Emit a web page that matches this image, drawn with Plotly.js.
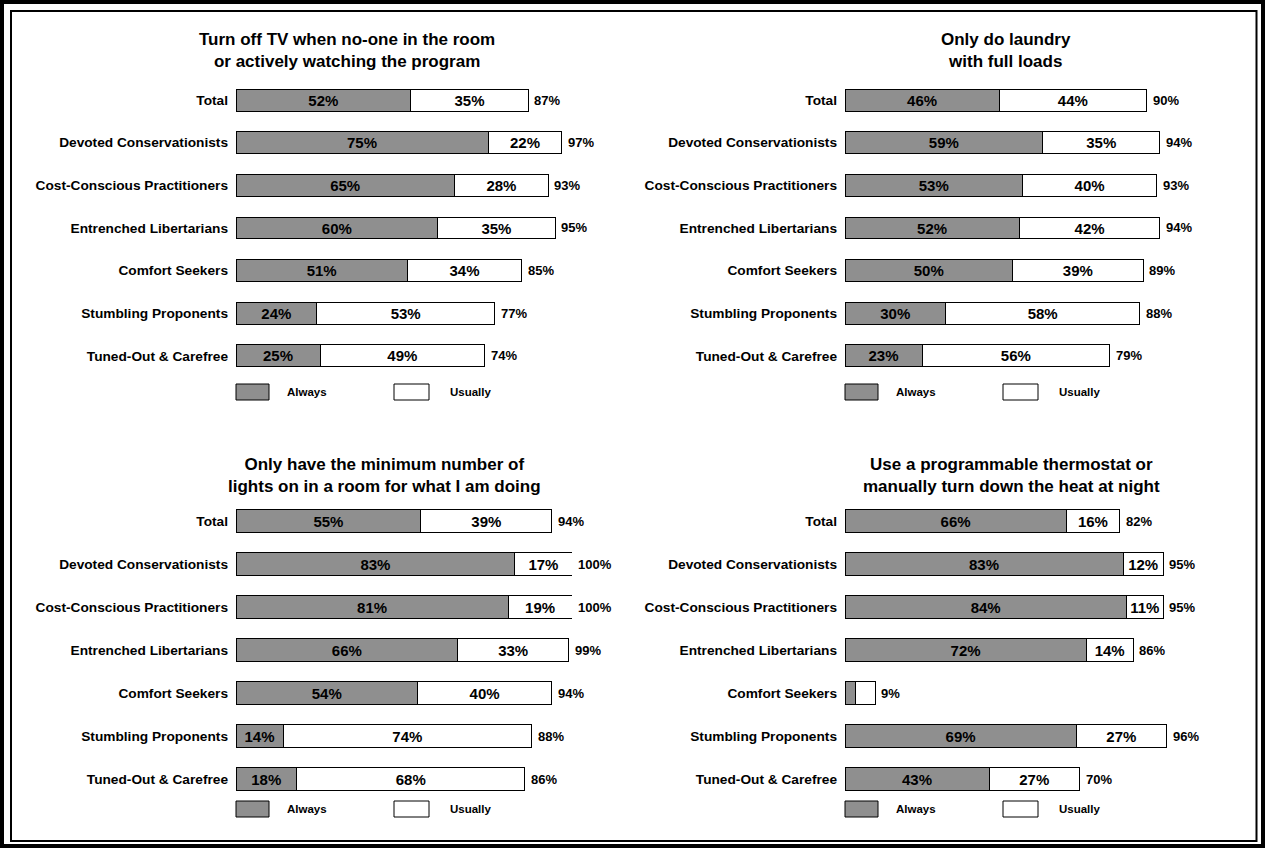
<!DOCTYPE html>
<html>
<head>
<meta charset="utf-8">
<script src="https://cdn.plot.ly/plotly-3.0.1.min.js"></script>
<style>
html,body{margin:0;padding:0;background:#fff;}
#chart{width:1265px;height:848px;}
</style>
</head>
<body>
<div id="chart"></div>
<script>
// ---- data ----
const categories = ["Total","Devoted Conservationists","Cost-Conscious Practitioners","Entrenched Libertarians","Comfort Seekers","Stumbling Proponents","Tuned-Out & Carefree"];

const panelTitles = [
  "Turn off TV when no-one in the room<br>or actively watching the program",
  "Only do laundry<br>with full loads",
  "Only have the minimum number of<br>lights on in a room for what I am doing",
  "Use a programmable thermostat or<br>manually turn down the heat at night"
];

const tvAlways   = [52,75,65,60,51,24,25];
const tvUsually  = [35,22,28,35,34,53,49];
const tvTotal    = [87,97,93,95,85,77,74];

const laundryAlways  = [46,59,53,52,50,30,23];
const laundryUsually = [44,35,40,42,39,58,56];
const laundryTotal   = [90,94,93,94,89,88,79];

const lightsAlways  = [55,83,81,66,54,14,18];
const lightsUsually = [39,17,19,33,40,74,68];
const lightsTotal   = [94,100,100,99,94,88,86];

const thermoAlways  = [66,83,84,72,3,69,43];
const thermoUsually = [16,12,11,14,6,27,27];
const thermoTotal   = [82,95,95,86,9,96,70];
const thermoShowInside = [true,true,true,true,false,true,true];

const legendLabels = ["Always","Usually"];

// ---- layout helpers ----
const W = 1265, H = 848;
const px = v => v / W;
const py = v => 1 - v / H;

const GRAY = "#8f8f8f";
const FONT = "Liberation Sans, Arial, Helvetica, sans-serif";

const panels = [
  {a: tvAlways, u: tvUsually, t: tvTotal, show: null, xa: "x", ya: "y"},
  {a: laundryAlways, u: laundryUsually, t: laundryTotal, show: null, xa: "x2", ya: "y2"},
  {a: lightsAlways, u: lightsUsually, t: lightsTotal, show: null, xa: "x3", ya: "y3"},
  {a: thermoAlways, u: thermoUsually, t: thermoTotal, show: thermoShowInside, xa: "x4", ya: "y4"}
];

const traces = [];
const annotations = [];
panels.forEach((p, i) => {
  const lab = (arr) => arr.map((v, k) => (p.show && !p.show[k]) ? "" : v + "%");
  const common = {
    type: "bar", orientation: "h", y: categories, xaxis: p.xa, yaxis: p.ya,
    textposition: "inside", insidetextanchor: "middle", textangle: 0,
    textfont: {family: FONT, size: 15, color: "#000", weight: "bold"},
    hoverinfo: "skip", showlegend: false, cliponaxis: false
  };
  traces.push(Object.assign({}, common, {
    x: p.a, text: lab(p.a), name: legendLabels[0],
    marker: {color: GRAY, line: {color: "#000", width: 1}}
  }));
  traces.push(Object.assign({}, common, {
    x: p.u, text: lab(p.u), name: legendLabels[1],
    marker: {color: "#fff", line: {color: "#000", width: 1}}
  }));
  // total labels to the right of each stacked bar
  p.t.forEach((v, k) => {
    annotations.push({
      xref: p.xa, yref: p.ya, x: p.a[k] + p.u[k], y: categories[k],
      xanchor: "left", yanchor: "middle", xshift: 4, showarrow: false,
      text: v + "%", font: {family: FONT, size: 13, color: "#000", weight: "bold"}
    });
  });
});

const leftX = [px(236), px(572)];
const rightX = [px(845), px(1180)];
const topY = [py(377.3), py(78.7)];
const botY = [py(800.5), py(499.5)];

function xax(dom, anchor) {
  return {domain: dom, range: [0, 100], visible: false, fixedrange: true, anchor: anchor};
}
function yax(dom, anchor) {
  return {domain: dom, range: [6.5, -0.5], type: "category", anchor: anchor,
    showgrid: false, zeroline: false, showline: false, ticks: "",
    ticklabelstandoff: 7,
    tickfont: {family: FONT, size: 13.7, color: "#000", weight: "bold"}, fixedrange: true};
}

const titlePos = [[347, 50.5], [1006, 50.5], [384, 475.5], [1011, 475.5]];
panelTitles.forEach((t, i) => {
  annotations.push({xref: "paper", yref: "paper", x: px(titlePos[i][0]), y: py(titlePos[i][1]),
    xanchor: "center", yanchor: "middle", showarrow: false, text: t, align: "center",
    font: {family: FONT, size: 17, color: "#000", weight: "bold"}});
});

const shapes = [];
// legends
const legendPos = [[236, 392], [845, 392], [236, 809], [845, 809]];
legendPos.forEach(([lx, ly]) => {
  shapes.push({type: "rect", xref: "paper", yref: "paper",
    x0: px(lx), x1: px(lx + 33), y0: py(ly - 8), y1: py(ly + 8),
    fillcolor: GRAY, line: {color: "#000", width: 1}});
  shapes.push({type: "rect", xref: "paper", yref: "paper",
    x0: px(lx + 158), x1: px(lx + 193), y0: py(ly - 8), y1: py(ly + 8),
    fillcolor: "#fff", line: {color: "#000", width: 1}});
  annotations.push({xref: "paper", yref: "paper", x: px(lx + 49), y: py(ly),
    xanchor: "left", yanchor: "middle", showarrow: false, text: legendLabels[0],
    font: {family: FONT, size: 11.5, color: "#000", weight: "bold"}});
  annotations.push({xref: "paper", yref: "paper", x: px(lx + 212), y: py(ly),
    xanchor: "left", yanchor: "middle", showarrow: false, text: legendLabels[1],
    font: {family: FONT, size: 11.5, color: "#000", weight: "bold"}});
});
// double frame
shapes.push({type: "rect", xref: "paper", yref: "paper",
  x0: px(2), x1: px(1263), y0: py(846), y1: py(2),
  line: {color: "#000", width: 4}, fillcolor: "rgba(0,0,0,0)"});
shapes.push({type: "rect", xref: "paper", yref: "paper",
  x0: px(11), x1: px(1256.5), y0: py(841), y1: py(11),
  line: {color: "#000", width: 2}, fillcolor: "rgba(0,0,0,0)"});

const layout = {
  width: W, height: H,
  margin: {l: 0, r: 0, t: 0, b: 0},
  paper_bgcolor: "#fff", plot_bgcolor: "rgba(0,0,0,0)",
  font: {family: FONT, color: "#000"},
  barmode: "stack", bargap: 0.485,
  uniformtext: {mode: "show", minsize: 15},
  showlegend: false,
  xaxis: xax(leftX, "y"), yaxis: yax(topY, "x"),
  xaxis2: xax(rightX, "y2"), yaxis2: yax(topY, "x2"),
  xaxis3: xax(leftX, "y3"), yaxis3: yax(botY, "x3"),
  xaxis4: xax(rightX, "y4"), yaxis4: yax(botY, "x4"),
  annotations: annotations, shapes: shapes
};

Plotly.newPlot("chart", traces, layout, {displayModeBar: false, staticPlot: true});
</script>
</body>
</html>
